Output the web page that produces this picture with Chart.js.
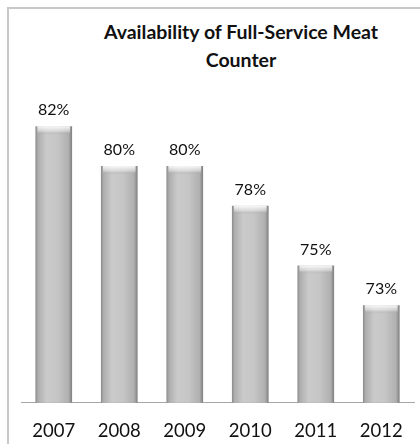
<!DOCTYPE html>
<html>
<head>
<meta charset="utf-8">
<script src="https://cdn.jsdelivr.net/npm/chart.js@4/dist/chart.umd.min.js"></script>
<style>
  html, body { margin: 0; padding: 0; background: #fff; }
  #wrap { position: relative; width: 420px; height: 444px; overflow: hidden; }
  #frame { position: absolute; left: 7px; top: 7px; width: 460px; height: 480px; border: 2px solid #c8c8c8; }
  #title { position: absolute; left: 81px; width: 320px; top: 18px; text-align: center;
           font: bold 19.5px Lato, sans-serif; line-height: 28px; color: #111; }
  canvas { position: absolute; left: 0; top: 0; }
</style>
</head>
<body>
<div id="wrap">
  <div id="frame"></div>
  <div id="title">Availability of Full-Service Meat<br>Counter</div>
  <canvas id="meatChart" width="420" height="465"></canvas>
</div>
<script>
// data
const years = ['2007', '2008', '2009', '2010', '2011', '2012'];
const availability = [82, 80, 80, 78, 75, 73];

const barShare = 0.56;

// horizontal grey gradient, per bar, so it looks like a rounded column
function barFill(c) {
    const chart = c.chart;
    const xs = chart.scales.x;
    if (c.dataIndex === undefined || !xs) return '#c4c4c4';
    const cx = xs.getPixelForValue(c.dataIndex);
    const w = xs.width / years.length * barShare;
    if (!isFinite(cx) || !isFinite(w) || w <= 0) return '#c4c4c4';
    const g = chart.ctx.createLinearGradient(cx - w / 2, 0, cx + w / 2, 0);
    g.addColorStop(0, '#8a8a8a');
    g.addColorStop(0.07, '#adadad');
    g.addColorStop(0.3, '#cacaca');
    g.addColorStop(0.6, '#c6c6c6');
    g.addColorStop(0.9, '#b0b0b0');
    g.addColorStop(1, '#7e7e7e');
    return g;
}

// bevelled top and dark foot on every bar
const barShading = {
    id: 'barShading',
    afterDatasetsDraw(chart) {
        const ctx = chart.ctx;
        chart.getDatasetMeta(0).data.forEach(el => {
            const {x, y, base, width} = el.getProps(['x', 'y', 'base', 'width'], true);
            const l = x - width / 2;
            const top = ctx.createLinearGradient(0, y, 0, y + 8);
            top.addColorStop(0, 'rgba(255,255,255,0.9)');
            top.addColorStop(0.6, 'rgba(235,235,235,0.5)');
            top.addColorStop(1, 'rgba(150,150,150,0.1)');
            ctx.fillStyle = top;
            ctx.fillRect(l + 2, y, width - 4, 8);
            const foot = ctx.createLinearGradient(0, base - 5, 0, base);
            foot.addColorStop(0, 'rgba(60,60,60,0.1)');
            foot.addColorStop(0.5, 'rgba(60,60,60,0.7)');
            foot.addColorStop(1, 'rgba(90,90,90,0.5)');
            ctx.fillStyle = foot;
            ctx.fillRect(l, base - 5, width, 5);
        });
    }
};

// value labels above the bars
const valueLabels = {
    id: 'valueLabels',
    afterDatasetsDraw(chart) {
        const ctx = chart.ctx;
        ctx.save();
        ctx.font = '16px Lato, sans-serif';
        ctx.fillStyle = '#111';
        ctx.textAlign = 'center';
        ctx.textBaseline = 'middle';
        chart.getDatasetMeta(0).data.forEach((el, i) => {
            ctx.fillText(availability[i] + '%', el.x, el.y - 16);
        });
        ctx.restore();
    }
};

const ctx = document.getElementById('meatChart').getContext('2d');
const meatChart = new Chart(ctx, {
    type: 'bar',
    data: {
        labels: years,
        datasets: [{
            data: availability,
            backgroundColor: barFill,
            borderWidth: 0,
            categoryPercentage: 1,
            barPercentage: barShare
        }]
    },
    options: {
        responsive: false,
        animation: false,
        layout: { padding: { left: 21, right: 3, top: 72, bottom: 6 } },
        scales: {
            y: { display: false, min: 68.1, max: 84.73 },
            x: {
                grid: { display: false, drawTicks: false },
                border: { display: true, color: '#a6a6a6', width: 1 },
                ticks: { color: '#111', font: { family: 'Lato', size: 18.5 }, padding: 17 }
            }
        },
        plugins: {
            legend: { display: false },
            tooltip: { enabled: false }
        }
    },
    plugins: [barShading, valueLabels]
});
</script>
</body>
</html>
